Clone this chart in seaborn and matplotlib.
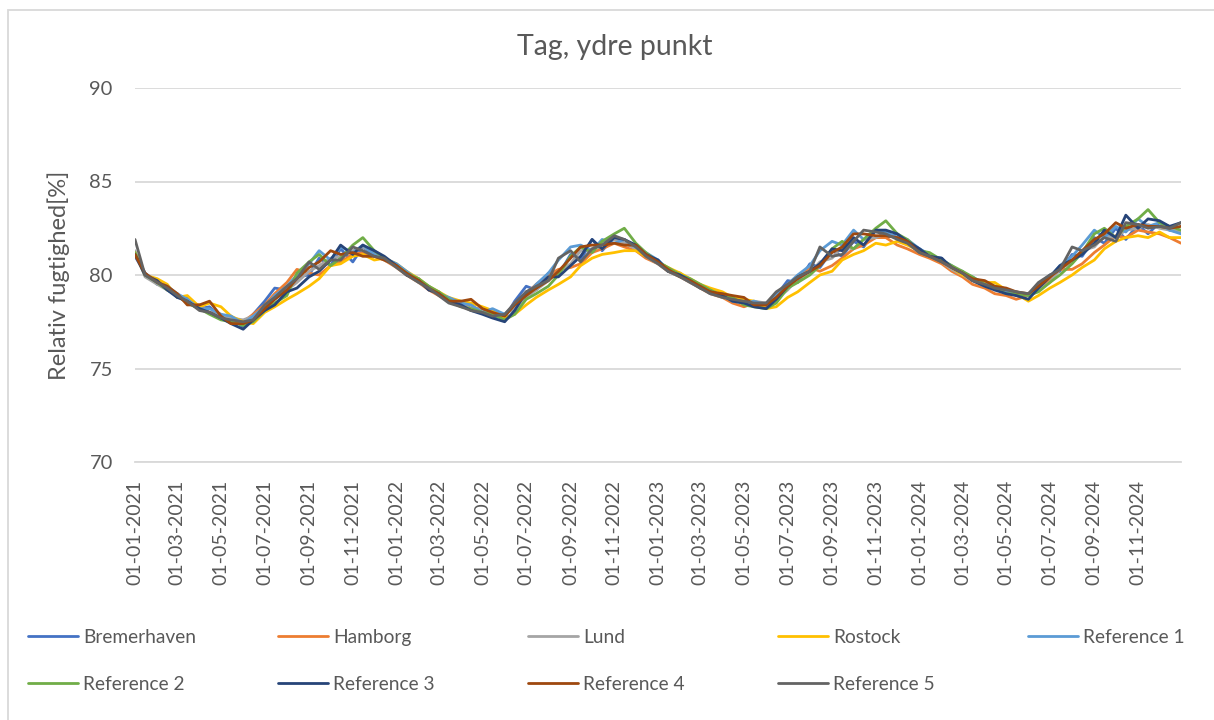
import numpy as np
import pandas as pd
import matplotlib
matplotlib.use("Agg")
import matplotlib.pyplot as plt
import matplotlib.dates as mdates
from matplotlib.lines import Line2D
from matplotlib.patches import Rectangle
import seaborn as sns

# ---------------- data (semi-monthly readings, 2021-01-01 .. 2024-12-31) ----------------
DATES = list(pd.date_range("2021-01-01", "2024-12-16", freq="SMS")) + [pd.Timestamp("2024-12-31")]

SERIES_NAMES = ["Bremerhaven", "Hamborg", "Lund", "Rostock", "Reference 1",
                "Reference 2", "Reference 3", "Reference 4", "Reference 5"]
COLORS = ["#4472C4", "#ED7D31", "#A5A5A5", "#FFC000", "#5B9BD5",
          "#70AD47", "#264478", "#9E480E", "#636363"]

bremerhaven = [
    81.0, 80.1, 79.5, 79.4, 78.8, 78.8, 78.2, 78.3, 77.7, 77.8, 77.2, 77.9, 78.6, 79.3, 79.2, 79.9, 80.0, 80.9, 80.5, 81.4, 80.7, 81.5, 81.0, 80.9,
    80.5, 80.0, 79.8, 79.2, 79.1, 78.6, 78.6, 78.2, 78.2, 77.8, 77.7, 78.6, 79.4, 79.2, 80.1, 80.0, 81.1, 80.8, 81.9, 81.3, 82.0, 81.7, 81.6, 81.0,
    80.8, 80.2, 80.1, 79.6, 79.5, 79.0, 79.0, 78.6, 78.7, 78.4, 78.5, 78.9, 79.7, 79.6, 80.6, 80.4, 81.3, 81.0, 81.8, 81.5, 82.4, 82.0, 82.2, 81.7,
    81.4, 81.0, 80.9, 80.3, 80.2, 79.7, 79.6, 79.2, 79.2, 78.9, 78.9, 79.5, 80.0, 80.2, 81.1, 81.0, 82.0, 81.7, 82.5, 81.9, 82.7, 82.2, 82.8, 82.4, 82.3]
hamborg = [
    81.1, 80.0, 79.7, 79.2, 79.0, 78.5, 78.4, 78.0, 77.9, 77.5, 77.5, 77.9, 78.4, 79.0, 79.6, 80.3, 80.1, 80.0, 80.5, 80.7, 81.1, 81.2, 81.0, 80.8,
    80.4, 80.0, 79.6, 79.2, 78.9, 78.6, 78.3, 78.4, 78.0, 78.0, 77.8, 78.5, 79.0, 79.5, 80.0, 80.3, 80.4, 80.6, 81.2, 81.4, 81.7, 81.5, 81.3, 80.9,
    80.6, 80.2, 79.9, 79.6, 79.3, 79.0, 78.8, 78.5, 78.3, 78.5, 78.3, 78.7, 79.3, 79.9, 80.4, 80.2, 80.5, 80.9, 81.4, 81.6, 82.0, 82.0, 81.6, 81.4,
    81.1, 80.9, 80.6, 80.2, 79.9, 79.5, 79.3, 79.0, 78.9, 78.7, 78.9, 79.2, 79.8, 80.3, 80.3, 80.6, 81.2, 81.6, 82.1, 82.0, 82.4, 82.3, 82.2, 82.0, 81.7]
lund = [
    81.3, 79.9, 79.5, 79.2, 78.9, 78.5, 78.2, 78.0, 77.8, 77.7, 77.6, 77.8, 78.2, 78.7, 79.2, 79.6, 80.2, 80.5, 80.9, 81.0, 81.3, 81.5, 81.2, 80.8,
    80.5, 80.1, 79.6, 79.3, 79.0, 78.6, 78.4, 78.2, 78.2, 78.0, 77.9, 78.2, 78.8, 79.2, 79.7, 80.2, 80.6, 81.3, 81.4, 81.8, 81.9, 81.7, 81.4, 81.0,
    80.6, 80.2, 79.9, 79.6, 79.3, 79.1, 78.8, 78.7, 78.5, 78.6, 78.5, 78.7, 79.2, 79.8, 80.1, 80.7, 80.9, 81.5, 81.4, 81.9, 82.0, 82.2, 82.0, 81.7,
    81.2, 81.0, 80.7, 80.3, 80.0, 79.7, 79.4, 79.3, 79.0, 79.1, 78.9, 79.2, 79.6, 80.3, 80.7, 81.3, 81.5, 82.1, 82.0, 82.4, 82.5, 82.7, 82.5, 82.4, 82.3]
rostock = [
    81.2, 80.0, 79.8, 79.5, 78.8, 78.9, 78.3, 78.5, 78.3, 77.8, 77.5, 77.4, 78.0, 78.3, 78.7, 79.0, 79.4, 79.8, 80.5, 80.6, 81.0, 81.1, 80.8, 80.9,
    80.6, 80.2, 79.8, 79.4, 79.1, 78.8, 78.6, 78.5, 78.3, 78.1, 77.7, 77.9, 78.4, 78.8, 79.2, 79.5, 79.9, 80.5, 80.9, 81.1, 81.2, 81.3, 81.3, 81.0,
    80.7, 80.4, 80.1, 79.8, 79.5, 79.3, 79.1, 78.8, 78.7, 78.6, 78.2, 78.3, 78.8, 79.1, 79.6, 80.0, 80.2, 80.8, 81.1, 81.3, 81.7, 81.6, 81.8, 81.6,
    81.3, 81.1, 80.8, 80.4, 80.0, 79.8, 79.6, 79.6, 79.2, 79.0, 78.6, 78.9, 79.3, 79.6, 80.0, 80.4, 80.8, 81.4, 81.8, 82.0, 82.1, 82.0, 82.3, 82.0, 82.0]
reference_1 = [
    81.1, 80.1, 79.6, 79.4, 79.0, 78.7, 78.2, 78.2, 77.9, 77.8, 77.4, 77.8, 78.3, 78.9, 79.4, 80.0, 80.6, 81.3, 80.8, 81.5, 81.2, 81.6, 81.1, 80.9,
    80.6, 80.2, 79.7, 79.4, 79.0, 78.8, 78.5, 78.4, 78.0, 78.2, 77.9, 78.4, 78.9, 79.5, 80.1, 80.8, 81.5, 81.6, 81.3, 81.9, 81.7, 81.9, 81.5, 81.2,
    80.8, 80.3, 80.0, 79.7, 79.4, 79.0, 79.0, 78.6, 78.5, 78.6, 78.4, 78.9, 79.5, 80.0, 80.5, 81.3, 81.8, 81.6, 82.4, 81.9, 82.4, 82.3, 82.0, 81.9,
    81.4, 81.1, 80.8, 80.5, 80.1, 79.9, 79.5, 79.4, 79.1, 79.1, 78.9, 79.4, 79.9, 80.5, 81.0, 81.6, 82.4, 82.0, 82.6, 82.3, 83.0, 82.6, 82.8, 82.4, 82.2]
reference_2 = [
    81.2, 80.0, 79.6, 79.2, 78.9, 78.5, 78.2, 77.9, 77.6, 77.5, 77.3, 77.5, 78.1, 78.5, 78.9, 80.1, 80.7, 81.1, 80.5, 80.9, 81.6, 82.0, 81.3, 80.9,
    80.5, 80.1, 79.8, 79.4, 79.1, 78.7, 78.3, 78.2, 78.0, 77.9, 77.6, 77.9, 78.7, 79.0, 79.4, 80.0, 81.0, 81.5, 81.2, 81.8, 82.2, 82.5, 81.7, 81.2,
    80.7, 80.4, 80.0, 79.8, 79.5, 79.2, 78.9, 78.8, 78.4, 78.3, 78.2, 78.5, 79.3, 79.6, 80.0, 80.5, 81.4, 81.8, 81.4, 81.9, 82.5, 82.9, 82.2, 81.9,
    81.3, 81.2, 80.8, 80.5, 80.2, 79.9, 79.5, 79.3, 79.0, 79.0, 78.9, 79.1, 79.6, 80.0, 80.6, 81.2, 82.2, 82.5, 82.0, 82.6, 83.0, 83.5, 82.8, 82.6, 82.4]
reference_3 = [
    81.1, 80.0, 79.7, 79.2, 78.8, 78.6, 78.2, 78.0, 77.7, 77.4, 77.1, 77.6, 78.1, 78.4, 79.1, 79.3, 79.9, 80.2, 80.8, 81.6, 81.1, 81.6, 81.3, 81.0,
    80.5, 80.0, 79.7, 79.2, 79.0, 78.6, 78.4, 78.1, 77.9, 77.7, 77.5, 78.1, 79.1, 79.3, 79.9, 79.9, 80.5, 81.0, 81.9, 81.4, 82.0, 81.9, 81.6, 81.1,
    80.8, 80.2, 80.0, 79.7, 79.3, 79.1, 78.9, 78.6, 78.5, 78.3, 78.2, 78.7, 79.4, 79.9, 80.2, 80.6, 81.4, 81.3, 82.0, 81.6, 82.4, 82.4, 82.2, 81.8,
    81.4, 81.0, 80.9, 80.4, 80.1, 79.7, 79.4, 79.2, 79.0, 78.9, 78.7, 79.3, 79.9, 80.5, 80.8, 81.1, 81.7, 82.4, 82.0, 83.2, 82.5, 83.0, 82.9, 82.6, 82.8]
reference_4 = [
    81.1, 80.1, 79.6, 79.4, 79.0, 78.4, 78.4, 78.6, 77.8, 77.4, 77.4, 77.6, 78.2, 78.7, 79.2, 79.8, 80.4, 80.7, 81.3, 81.1, 81.2, 81.0, 81.0, 80.8,
    80.5, 80.1, 79.7, 79.3, 79.0, 78.6, 78.6, 78.7, 78.2, 78.0, 77.8, 78.4, 78.9, 79.3, 79.7, 80.2, 80.9, 81.5, 81.6, 81.6, 81.7, 81.6, 81.6, 81.1,
    80.7, 80.3, 79.9, 79.7, 79.4, 79.1, 79.0, 78.9, 78.8, 78.4, 78.4, 78.8, 79.4, 79.8, 80.2, 80.5, 81.2, 81.5, 82.2, 82.2, 82.1, 82.1, 82.0, 81.8,
    81.2, 81.0, 80.7, 80.4, 80.1, 79.8, 79.7, 79.4, 79.3, 79.1, 79.0, 79.4, 79.9, 80.3, 80.8, 81.3, 81.9, 82.2, 82.8, 82.5, 82.7, 82.6, 82.6, 82.5, 82.6]
reference_5 = [
    81.9, 80.0, 79.6, 79.3, 78.9, 78.6, 78.1, 78.0, 77.7, 77.6, 77.5, 77.6, 78.4, 78.8, 79.4, 79.8, 80.7, 80.3, 80.8, 80.8, 81.5, 81.3, 81.0, 80.9,
    80.4, 80.0, 79.6, 79.3, 78.9, 78.5, 78.3, 78.1, 78.0, 77.8, 77.9, 78.5, 79.1, 79.4, 79.7, 80.9, 81.3, 80.7, 81.4, 81.6, 82.1, 81.9, 81.5, 81.0,
    80.6, 80.2, 79.9, 79.6, 79.3, 79.0, 78.8, 78.7, 78.6, 78.5, 78.5, 79.1, 79.5, 79.9, 80.2, 81.5, 81.0, 81.1, 81.8, 82.4, 82.3, 82.2, 81.9, 81.7,
    81.2, 81.0, 80.7, 80.4, 80.1, 79.7, 79.5, 79.3, 79.2, 79.1, 79.0, 79.6, 80.0, 80.3, 81.5, 81.3, 81.6, 82.0, 81.8, 82.8, 82.7, 82.5, 82.6, 82.5, 82.8]

VALUES = [bremerhaven, hamborg, lund, rostock, reference_1,
          reference_2, reference_3, reference_4, reference_5]

Y_TICKS = [70, 75, 80, 85, 90]
TITLE = "Tag, ydre punkt"
Y_LABEL = "Relativ fugtighed[%]"

# ---------------- build long table ----------------
frames = []
for name, vals in zip(SERIES_NAMES, VALUES):
    assert len(vals) == len(DATES), (name, len(vals))
    frames.append(pd.DataFrame({"Dato": DATES, "RF": vals, "Serie": name}))
df = pd.concat(frames, ignore_index=True)

# ---------------- style ----------------
sns.set_theme(style="white")
plt.rcParams["font.family"] = ["Lato", "DejaVu Sans"]
TXT = "#595959"
GRID = "#D9D9D9"

W, H = 1214, 720
fig = plt.figure(figsize=(W / 100, H / 100), dpi=100)
ax = fig.add_axes([135 / W, 1 - 462 / H, (1181 - 135) / W, (462 - 88) / H])

sns.lineplot(data=df, x="Dato", y="RF", hue="Serie", hue_order=SERIES_NAMES,
             palette=COLORS, linewidth=2.0, legend=False, ax=ax, estimator=None)

ax.set_ylim(70, 90)
ax.set_yticks(Y_TICKS)
ax.set_xlim(pd.Timestamp("2021-01-01"), pd.Timestamp("2024-12-31"))
ax.xaxis.set_major_locator(mdates.MonthLocator(bymonth=[1, 3, 5, 7, 9, 11], bymonthday=1))
ax.xaxis.set_major_formatter(mdates.DateFormatter("%d-%m-%Y"))

ax.grid(axis="y", color=GRID, linewidth=1.3)
ax.grid(axis="x", visible=False)
ax.set_axisbelow(True)
for s in ["left", "top", "right"]:
    ax.spines[s].set_visible(False)
ax.spines["bottom"].set_color(GRID)
ax.spines["bottom"].set_linewidth(1.3)

ax.tick_params(axis="x", direction="out", length=6, width=1.3, color=GRID,
               labelcolor=TXT, labelsize=14, labelrotation=90, pad=7)
ax.tick_params(axis="y", length=0, labelcolor=TXT, labelsize=14.5, pad=16)

ax.set_xlabel("")
ax.set_ylabel(Y_LABEL, color=TXT, fontsize=17)
ax.yaxis.set_label_coords((70 - 135) / (1181 - 135), 0.5)

fig.text(615 / W, 1 - 47 / H, TITLE, ha="center", va="center", color=TXT, fontsize=20.5)

# outer chart border
fig.patches.append(Rectangle((8 / W, -0.05), 1.1, 1 - 10 / H + 0.05, transform=fig.transFigure,
                             fill=False, edgecolor=GRID, linewidth=1.3, zorder=0))

# legend: 5 columns x 2 rows as in the reference
col_groups = [[0, 5], [1, 6], [2, 7], [3, 8], [4]]
col_x = [28, 278, 528, 778, 1028]
for grp, x in zip(col_groups, col_x):
    handles = [Line2D([], [], color=COLORS[i], linewidth=2.0) for i in grp]
    labels = [SERIES_NAMES[i] for i in grp]
    fig.legend(handles, labels, loc="upper left", bbox_to_anchor=(x / W, 1 - 629 / H),
               frameon=False, fontsize=13.8, handlelength=2.6, handletextpad=0.27,
               labelspacing=1.55, borderpad=0, borderaxespad=0, labelcolor=TXT)

fig.savefig("out.png", dpi=100)
